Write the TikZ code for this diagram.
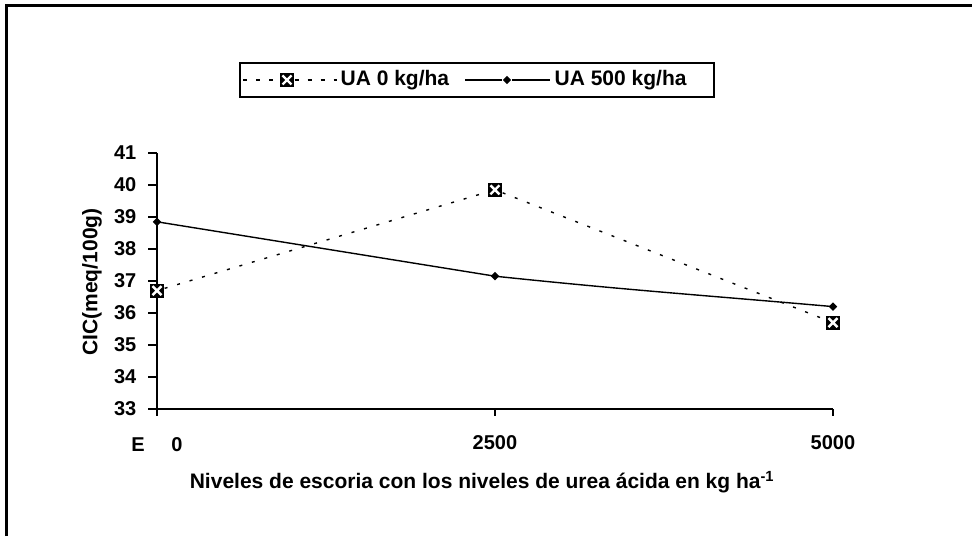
\documentclass[tikz,border=0pt]{standalone}
\usepackage{fontspec}
\setmainfont{Liberation Sans}
\usetikzlibrary{positioning,shapes.geometric}

\begin{document}
\begin{tikzpicture}[x=1pt,y=1pt,line width=1.3pt,font=\bfseries\fontsize{20}{24}\selectfont]
	\tikzstyle{uazero}=[draw, dash pattern=on 3pt off 10pt, line width=1.4pt]
	\tikzstyle{uafive}=[draw, line width=1.4pt]
	\tikzstyle{boxmark}=[rectangle, fill=black, minimum size=14pt, inner sep=0pt,
		path picture={\draw[white, line width=2.4pt]
			([shift={(2.5pt,2.5pt)}]path picture bounding box.south west) -- ([shift={(-2.5pt,-2.5pt)}]path picture bounding box.north east)
			([shift={(2.5pt,-2.5pt)}]path picture bounding box.north west) -- ([shift={(-2.5pt,2.5pt)}]path picture bounding box.south east);}]
	\tikzstyle{dmark}=[diamond, fill=black, minimum size=9pt, inner sep=0pt]
	\tikzstyle{bigtext}=[font=\bfseries\fontsize{21}{25}\selectfont]
	
	\useasboundingbox (0,0) rectangle (972,536);
	% frame
	\draw[line width=3pt] (6,0) -- (6,530) -- (972,530);
	
	% legend
	\node[draw, line width=1.8pt, minimum width=474pt, minimum height=34pt, inner sep=0pt] (legend) at (477,456) {};
	\coordinate (la) at (243,456);
	\node[boxmark] (lz) at (287,456) {};
	\coordinate (lb) at (337,456);
	\node[bigtext, anchor=west, inner sep=1pt] (ltz) at (339,456) {UA 0 kg/ha};
	\coordinate (lc) at (465,456);
	\node[dmark] (lf) at (507,456) {};
	\coordinate (ld) at (550,456);
	\node[bigtext, anchor=west, inner sep=1pt] (ltf) at (553,456) {UA 500 kg/ha};
	\path[uazero, dash pattern=on 4pt off 9pt] (la) -- (lz) (lz) -- (lb);
	\path[uafive] (lc) -- (lf) -- (ld);
	
	% axis titles
	\node[bigtext, rotate=90] (ytitle) at (92,254) {CIC(meq/100g)};
	\node[bigtext] (xtitle) at (482,54) {Niveles de escoria con los niveles de urea ácida en kg ha\textsuperscript{-1}};
	
	\begin{scope}[shift={(157,-929)}, x=0.1352pt, y=32pt]
		% axes
		\draw (0,41) -- (0,32.78) (0,33) -- (5000,33);
		\foreach \v in {33,...,41}
			\draw (0,\v) -- ++(-9pt,0) node[left, inner sep=1pt, xshift=-10pt] {\v};
		\foreach \t in {2500,5000}
			\draw (\t,33) -- ++(0,-7pt) node[below, inner sep=1pt, yshift=-18pt] {\t};
		\node (xe) at (-140,31.88) {E};
		\node (xz) at (148,31.88) {0};
		
		% series UA 0
		\node[boxmark] (z1) at (0,36.7) {};
		\node[boxmark] (z2) at (2500,39.85) {};
		\node[boxmark] (z3) at (5000,35.7) {};
		\path[uazero] (z1) -- (z2) -- (z3);
		
		% series UA 500
		\node[dmark] (f1) at (0,38.85) {};
		\node[dmark] (f2) at (2500,37.15) {};
		\node[dmark] (f3) at (5000,36.2) {};
		\path[uafive] (f1.center) -- (f2.center) to[out=-6,in=175] (f3.center);
	\end{scope}
\end{tikzpicture}
\end{document}
